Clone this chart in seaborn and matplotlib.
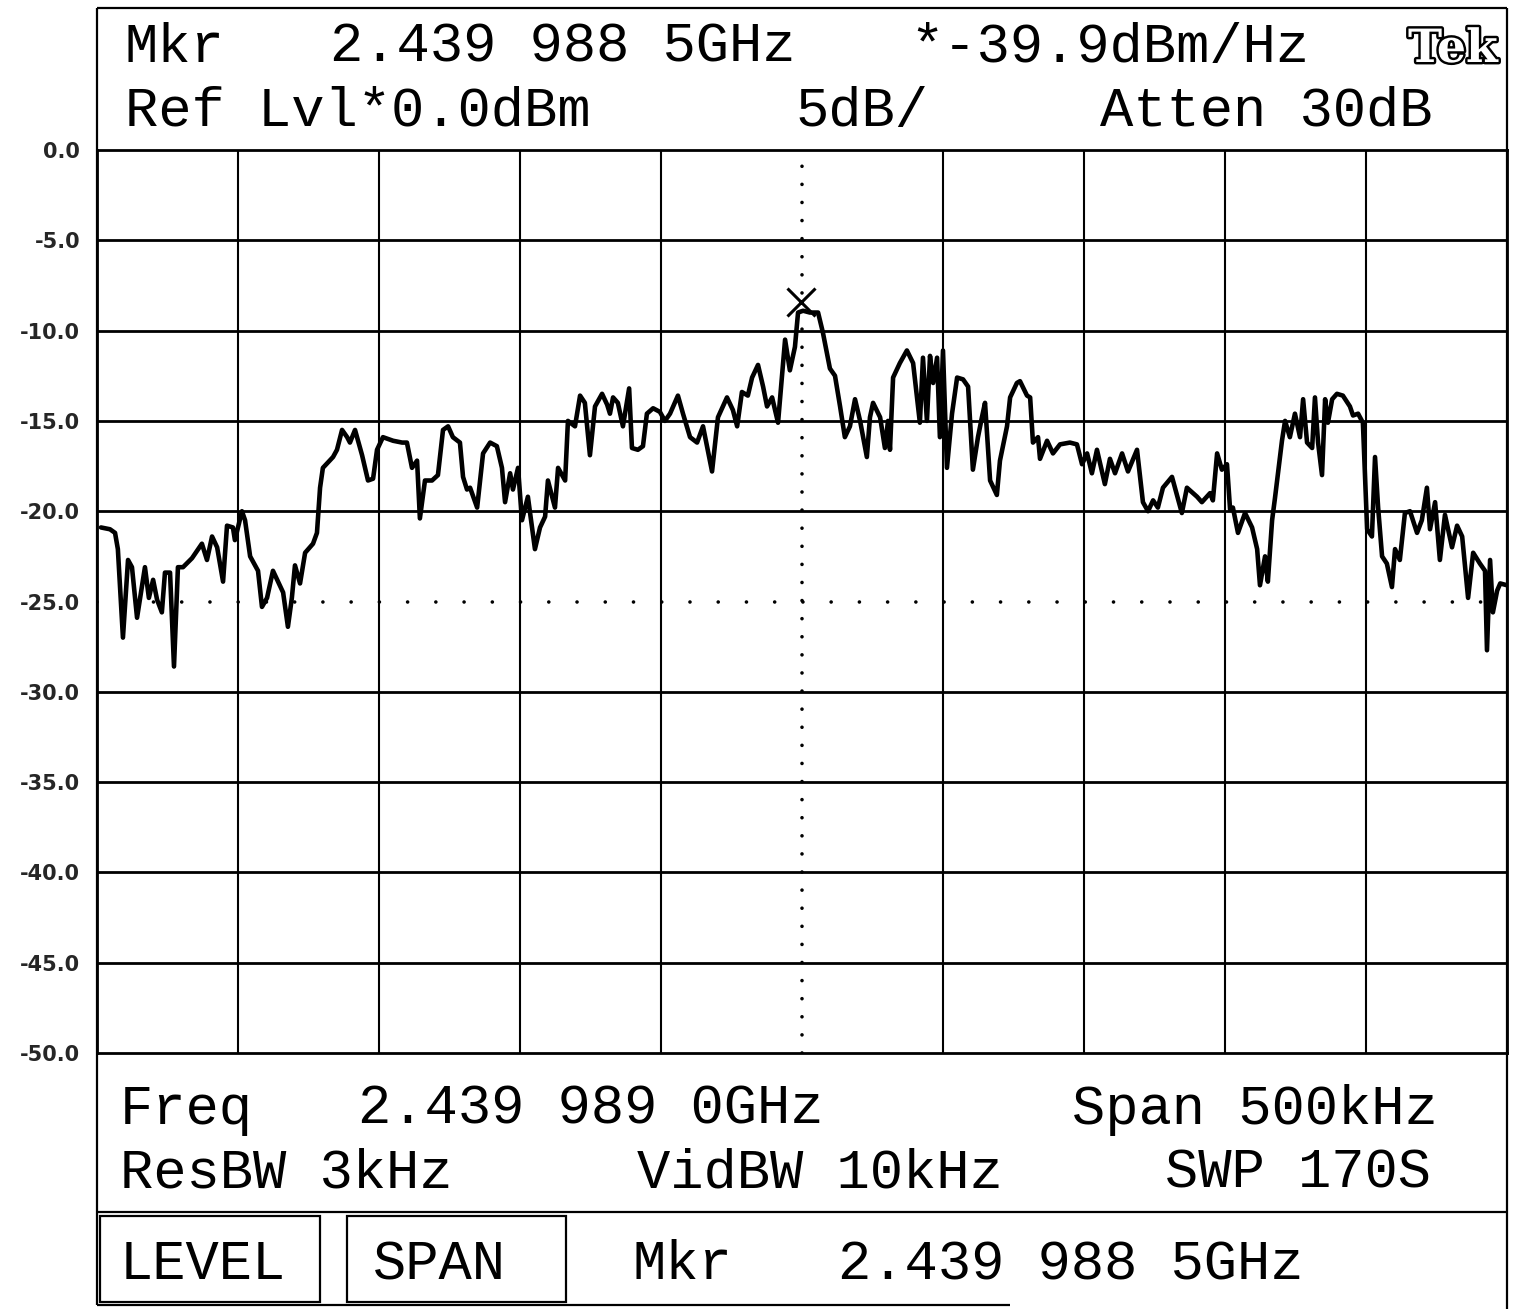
import numpy as np
import pandas as pd
import seaborn as sns
import matplotlib
matplotlib.use('Agg')
from matplotlib import pyplot as plt
from matplotlib.patches import Rectangle
from matplotlib import patheffects

# trace: offset from centre frequency (kHz) and level (dB)
offset_khz = [
    -248.6, -245.4, -243.6, -242.6, -240.8, -239.0, -237.6, -235.8, -234.8, -233.0,
    -231.6, -230.1, -228.7, -227.0, -225.9, -224.1, -222.7, -221.3, -219.5, -216.3,
    -212.8, -211.0, -209.2, -207.4, -205.3, -203.9, -201.8, -201.1, -198.6, -197.5,
    -195.7, -192.9, -191.5, -189.7, -187.6, -185.8, -184.0, -182.3, -180.9, -179.8,
    -178.0, -176.2, -173.4, -172.0, -170.9, -169.9, -168.1, -166.3, -164.9, -163.1,
    -161.3, -160.3, -158.5, -156.0, -153.9, -152.1, -150.7, -148.6, -145.0, -141.8,
    -140.1, -138.3, -136.5, -135.5, -133.7, -131.2, -129.1, -127.3, -125.5, -123.8,
    -121.3, -120.2, -118.8, -117.7, -115.2, -113.1, -110.6, -108.2, -106.4, -105.3,
    -103.5, -102.5, -100.7, -99.3, -97.2, -94.7, -92.9, -91.1, -90.1, -87.6,
    -86.5, -84.0, -83.0, -80.5, -78.7, -77.0, -75.2, -73.4, -70.9, -69.1,
    -68.1, -67.0, -65.3, -63.5, -61.3, -60.3, -58.2, -56.4, -55.0, -52.8,
    -50.4, -48.6, -46.8, -44.0, -42.2, -39.7, -37.2, -35.1, -31.9, -29.8,
    -26.6, -24.5, -23.0, -21.3, -19.2, -17.7, -15.6, -13.8, -12.4, -10.6,
    -8.5, -6.0, -4.3, -2.5, -1.4, 0.4, 2.8, 5.7, 7.4, 9.9,
    11.7, 13.5, 15.2, 17.0, 18.8, 20.6, 23.0, 24.1, 25.2, 27.7,
    29.4, 30.5, 31.2, 32.3, 34.7, 37.2, 39.4, 41.8, 42.9, 44.3,
    45.4, 46.5, 47.9, 48.9, 50.0, 51.4, 53.2, 55.0, 57.1, 58.9,
    60.6, 62.4, 63.8, 64.9, 66.7, 69.1, 70.2, 72.7, 73.8, 76.2,
    77.3, 79.8, 80.9, 81.9, 83.7, 84.4, 86.9, 89.0, 91.5, 95.0,
    97.5, 99.3, 101.1, 102.8, 104.6, 107.4, 109.2, 111.0, 113.5, 115.6,
    118.8, 120.9, 122.7, 124.5, 126.2, 128.0, 131.2, 134.7, 136.5, 140.1,
    141.8, 144.7, 145.7, 147.2, 148.9, 150.7, 151.8, 152.8, 154.6, 157.1,
    159.6, 161.4, 162.4, 164.2, 165.2, 166.7, 167.7, 168.8, 170.2, 171.3,
    173.0, 174.8, 176.6, 177.7, 179.1, 180.9, 181.9, 183.0, 184.4, 185.5,
    186.5, 188.0, 189.7, 191.8, 194.3, 195.4, 197.2, 198.9, 200.4, 202.1,
    203.2, 204.3, 205.7, 207.4, 209.2, 210.3, 212.0, 213.8, 215.6, 218.1,
    219.8, 221.6, 222.7, 224.5, 226.2, 228.0, 230.5, 232.3, 234.1, 236.2,
    238.0, 240.4, 242.2, 242.9, 244.0, 245.0, 246.5, 247.6, 250.0,
]
level_db = [
    -20.9, -21.0, -21.2, -22.1, -27.0, -22.7, -23.1, -25.9, -24.9, -23.1,
    -24.8, -23.8, -24.9, -25.6, -23.4, -23.4, -28.6, -23.1, -23.1, -22.6,
    -21.8, -22.7, -21.4, -22.0, -23.9, -20.8, -20.9, -21.6, -20.0, -20.5,
    -22.5, -23.3, -25.3, -24.8, -23.3, -23.9, -24.5, -26.4, -24.8, -23.0,
    -24.0, -22.3, -21.8, -21.2, -18.7, -17.6, -17.3, -17.0, -16.6, -15.5,
    -15.9, -16.2, -15.5, -16.9, -18.3, -18.2, -16.6, -15.9, -16.1, -16.2,
    -16.2, -17.6, -17.2, -20.4, -18.3, -18.3, -18.0, -15.5, -15.3, -15.9,
    -16.2, -18.1, -18.8, -18.7, -19.8, -16.8, -16.2, -16.4, -17.6, -19.5,
    -17.9, -18.8, -17.6, -20.5, -19.2, -22.1, -20.9, -20.3, -18.3, -19.8,
    -17.6, -18.3, -15.0, -15.3, -13.6, -14.0, -16.9, -14.2, -13.5, -14.1,
    -14.6, -13.7, -14.0, -15.3, -13.2, -16.5, -16.6, -16.4, -14.6, -14.3,
    -14.5, -15.0, -14.6, -13.6, -14.6, -15.9, -16.2, -15.3, -17.8, -14.8,
    -13.7, -14.4, -15.3, -13.4, -13.6, -12.6, -11.9, -13.1, -14.2, -13.7,
    -15.1, -10.5, -12.2, -10.9, -9.0, -8.9, -9.0, -9.0, -10.1, -12.1,
    -12.5, -14.2, -15.9, -15.3, -13.8, -15.0, -17.0, -14.8, -14.0, -14.8,
    -16.5, -15.0, -16.6, -12.6, -11.8, -11.1, -11.8, -15.1, -11.5, -15.0,
    -11.4, -12.9, -11.5, -15.9, -11.1, -17.6, -14.6, -12.6, -12.7, -13.1,
    -17.7, -15.9, -14.8, -14.0, -18.3, -19.1, -17.2, -15.3, -13.7, -12.9,
    -12.8, -13.6, -13.7, -16.2, -15.9, -17.1, -16.1, -16.8, -16.3, -16.2,
    -16.3, -17.4, -16.8, -17.9, -16.6, -18.5, -17.1, -17.9, -16.8, -17.8,
    -16.6, -19.5, -20.0, -19.4, -19.8, -18.7, -18.1, -20.1, -18.7, -19.2,
    -19.5, -19.0, -19.4, -16.8, -17.7, -17.4, -19.9, -19.8, -21.2, -20.1,
    -20.9, -22.1, -24.1, -22.5, -23.9, -20.5, -19.3, -17.9, -16.1, -15.0,
    -15.9, -14.6, -15.9, -13.8, -16.2, -16.5, -13.7, -16.2, -18.0, -13.8,
    -15.1, -13.8, -13.5, -13.6, -14.2, -14.7, -14.6, -15.1, -21.0, -21.4,
    -17.0, -19.8, -22.5, -22.9, -24.2, -22.1, -22.7, -20.1, -20.0, -21.2,
    -20.5, -18.7, -21.0, -19.5, -22.7, -20.2, -22.0, -20.8, -21.4, -24.8,
    -22.3, -22.9, -23.3, -27.7, -22.7, -25.6, -24.4, -24.0, -24.1,
]

marker_khz = [-0.5]
marker_db = [-8.4]

x_ticks = [-250, -200, -150, -100, -50, 0, 50, 100, 150, 200, 250]
y_ticks = [0.0, -5.0, -10.0, -15.0, -20.0, -25.0, -30.0, -35.0, -40.0, -45.0, -50.0]
y_labels = ['0.0', '-5.0', '-10.0', '-15.0', '-20.0', '-25.0',
            '-30.0', '-35.0', '-40.0', '-45.0', '-50.0']

df = pd.DataFrame({'offset_khz': offset_khz, 'level_db': level_db})

sns.set_style('white')
plt.rcParams['font.family'] = ['Liberation Mono', 'DejaVu Sans Mono']
plt.rcParams['axes.unicode_minus'] = False

W, H = 1517, 1309
fig = plt.figure(figsize=(W / 100, H / 100), dpi=100)

# overlay in screen pixels for the frame and the readouts
over = fig.add_axes([0, 0, 1, 1])
over.set_xlim(0, W)
over.set_ylim(H, 0)
over.axis('off')

ax = fig.add_axes([97 / W, 1 - 1053 / H, 1410 / W, 903 / H])
ax.set_facecolor('none')

sns.lineplot(data=df, x='offset_khz', y='level_db', ax=ax, color='black',
             lw=3.3, sort=False, estimator=None, zorder=5)
ax.plot(marker_khz, marker_db, marker='x', color='black', ms=20, mew=2.2,
        ls='none', zorder=6)

ax.set_xlim(-250, 250)
ax.set_ylim(-50, 0)
ax.set_xticks(x_ticks)
ax.set_yticks(y_ticks)
ax.set_yticklabels(y_labels, family='DejaVu Sans', fontweight='bold', fontsize=15)
ax.tick_params(axis='x', length=0, labelbottom=False)
ax.tick_params(axis='y', length=7, width=1.5, pad=5, color='black', direction='out')
ax.set_xlabel('')
ax.set_ylabel('')
for sp in ax.spines.values():
    sp.set_color('black')
    sp.set_linewidth(2)


def dots(pitch_px, lw):
    return (0, (0.01, pitch_px * 0.72 / lw))


for xv in x_ticks[1:-1]:
    if xv == 0:
        ax.axvline(xv, color='black', lw=2.6, ls=dots(903 / 50, 2.6),
                   dash_capstyle='round', zorder=2)
    else:
        ax.axvline(xv, color='black', lw=1.5, zorder=2)
for yv in y_ticks[1:-1]:
    if yv == -25.0:
        ax.axhline(yv, color='black', lw=2.6, ls=dots(1410 / 50, 2.6),
                   dash_capstyle='round', zorder=2)
    else:
        ax.axhline(yv, color='black', lw=2.0, zorder=2)

# outer frame and separators
lk = dict(color='black', lw=1.6, solid_capstyle='butt')
over.plot([97, 1507], [8, 8], **lk)
over.plot([97, 97], [8, 1305], **lk)
over.plot([1507, 1507], [8, 1309], **lk)
over.plot([97, 1010], [1305, 1305], **lk)
over.plot([97, 1507], [1212, 1212], **lk)
over.add_patch(Rectangle((100, 1216), 220, 86, fill=False, lw=1.6, ec='black'))
over.add_patch(Rectangle((347, 1216), 219, 86, fill=False, lw=1.6, ec='black'))

readouts = [
    (125, 62, 'Mkr'), (330, 62, '2.439 988 5GHz'), (910, 62, '*-39.9dBm/Hz'),
    (125, 126, 'Ref Lvl*0.0dBm'), (795, 126, '5dB/'), (1100, 126, 'Atten 30dB'),
    (120, 1124, 'Freq'), (358, 1124, '2.439 989 0GHz'), (1072, 1124, 'Span 500kHz'),
    (120, 1187, 'ResBW 3kHz'), (637, 1187, 'VidBW 10kHz'), (1165, 1187, 'SWP 170S'),
    (120, 1279, 'LEVEL'), (373, 1279, 'SPAN'), (633, 1279, 'Mkr'),
    (838, 1279, '2.439 988 5GHz'),
]
for x, y, s in readouts:
    over.text(x, y, s, fontsize=40, ha='left', va='baseline', color='black')

over.text(1408, 62, 'Tek', family='DejaVu Serif', fontweight='bold', fontsize=33,
          ha='left', va='baseline', color='white',
          path_effects=[patheffects.withStroke(linewidth=3.5, foreground='black')])

fig.savefig('out.png', dpi=100, facecolor='white')
